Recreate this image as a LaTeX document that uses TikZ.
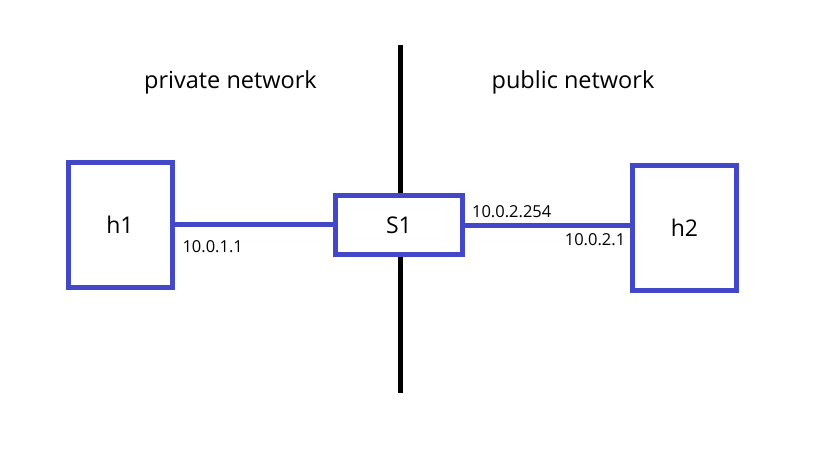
\documentclass[tikz,border=0pt]{standalone}
\usepackage{fontspec}
\setmainfont{Open Sans}
\usepackage{tikz}
\usetikzlibrary{positioning}
\definecolor{netblue}{RGB}{66,72,200}

\begin{document}
\begin{tikzpicture}[x=1pt, y=-1pt,
      host/.style={rectangle, draw=netblue, line width=5pt, fill=white,
                   minimum width=104pt, minimum height=125pt, inner sep=0pt,
                   font=\fontsize{23}{27}\selectfont},
      switchbox/.style={host, minimum width=127pt, minimum height=59pt},
      link/.style={draw=netblue, line width=5pt},
      addr/.style={inner sep=0pt, font=\fontsize{16.5}{19}\selectfont},
      zone/.style={inner sep=0pt, font=\fontsize{23.5}{27}\selectfont}]
    \useasboundingbox (0,0) rectangle (821,452);
    \coordinate (walltop) at (400,45);
    \coordinate (wallbot) at (400,393);
    \draw[line width=5pt] (walltop) -- (wallbot);
    \node[host] (h1) at (120,224.5) {h1};
    \node[switchbox] (s1) at (399,225) {S1};
    \node[host] (h2) at (684.5,227.5) {h2};
    \draw[link] (h1.east) -- (h1.east -| s1.west);
    \draw[link] (s1.east) -- (s1.east -| h2.west);
    \node[zone] (priv) at (230.5,82) {private network};
    \node[zone] (pub) at (573,82) {public network};
    \node[addr] (a1) at (212.7,246.7) {10.0.1.1};
    \node[addr] (a2) at (511.7,212) {10.0.2.254};
    \node[addr] (a3) at (595,240) {10.0.2.1};
  \end{tikzpicture}
\end{document}
